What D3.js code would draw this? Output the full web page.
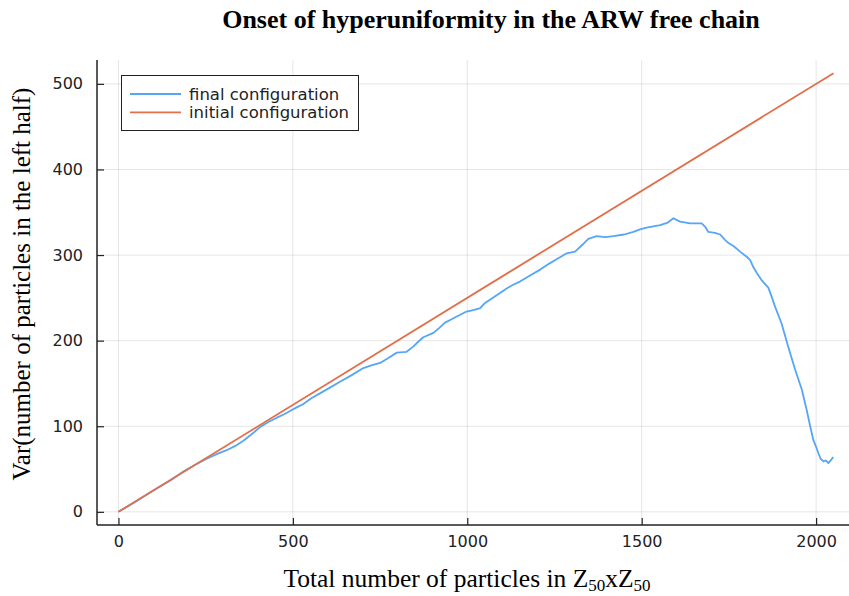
<!DOCTYPE html>
<html><head><meta charset="utf-8">
<script src="https://cdn.jsdelivr.net/npm/d3@7"></script>
<style>body{margin:0;background:#fff}</style>
</head><body><svg id="c" width="849" height="596"></svg>
<script>
// ---- data ----
const finalX = [0,50,100,150,186,220,253,285,310,335,358,380,406,430,454,475,497,511,530,554,580,610,635,670,702,725,750,775,798,826,845,860,874,903,920,936,955,974,998,1020,1037,1051,1080,1113,1130,1151,1180,1209,1235,1256,1285,1309,1330,1347,1371,1395,1419,1450,1476,1495,1514,1553,1575,1591,1610,1639,1672,1682,1691,1710,1725,1738,1749,1765,1782,1801,1811,1820,1830,1845,1863,1872,1882,1901,1920,1940,1959,1973,1983,1992,2000,2006,2013,2021,2028,2035,2042,2049];
const finalY = [0,12,25,37,47,55,62,68,72,77,83,90,99,105,110,114,119,122,126,133,139,146,152,160,168,171,174,180,186,187,193,199,204,209,215,221,225,229,234,236,238,244,252,261,265,269,276,283,290,295,302,304,312,319,322,321,322,324,327,330,332,335,338,343,339,337,337,333,327,326,324,318,314,310,304,298,294,286,279,270,262,252,240,220,193,166,143,119,100,84,76,69,62,59,60,57,60,64];
const initialX = [0, 2050];
const initialY = [0, 512.5];
const xTicks = [0, 500, 1000, 1500, 2000];
const yTicks = [0, 100, 200, 300, 400, 500];
const seriesNames = ["final configuration", "initial configuration"];
const seriesColors = ["#55a5f8", "#e0704a"];

// ---- layout ----
const svg = d3.select("#c");
const L = 97, R = 855, T = 60, B = 525;
const x = d3.scaleLinear().domain([-61.5, 2111.5]).range([L, R]);
const y = d3.scaleLinear().domain([-15.375, 527.875]).range([B, T]);

svg.append("defs").append("clipPath").attr("id", "clip")
  .append("rect").attr("x", L).attr("y", T).attr("width", R - L).attr("height", B - T);

// grid
const grid = svg.append("g").attr("stroke", "#000").attr("stroke-opacity", 0.1).attr("stroke-width", 1);
grid.selectAll(".vx").data(xTicks).join("line")
  .attr("x1", d => x(d)).attr("x2", d => x(d)).attr("y1", T).attr("y2", B);
grid.selectAll(".hy").data(yTicks).join("line")
  .attr("x1", L).attr("x2", R).attr("y1", d => y(d)).attr("y2", d => y(d));

// lines
const series = [
  finalX.map((v, i) => [v, finalY[i]]),
  initialX.map((v, i) => [v, initialY[i]])
];
const line = d3.line().x(d => x(d[0])).y(d => y(d[1]));
const lg = svg.append("g").attr("clip-path", "url(#clip)");
series.forEach((s, i) => {
  lg.append("path").datum(s).attr("d", line).attr("fill", "none")
    .attr("stroke", seriesColors[i]).attr("stroke-width", 1.8).attr("stroke-linejoin", "round");
});

// axes
const xAxis = svg.append("g").attr("transform", `translate(0,${B})`)
  .call(d3.axisBottom(x).tickValues(xTicks).tickSize(-7).tickPadding(11).tickFormat(d3.format("d")));
const yAxis = svg.append("g").attr("transform", `translate(${L},0)`)
  .call(d3.axisLeft(y).tickValues(yTicks).tickSize(-7).tickPadding(14).tickFormat(d3.format("d")));
[xAxis, yAxis].forEach(a => {
  a.select(".domain").attr("stroke", "#222").attr("stroke-width", 1.5);
  a.selectAll(".tick line").attr("stroke", "#222").attr("stroke-width", 1.2);
  a.selectAll(".tick text").attr("font-family", "DejaVu Sans").attr("font-size", 16).attr("fill", "#222");
});
xAxis.select(".domain").attr("d", `M${L},0H${R}`);
yAxis.select(".domain").attr("d", `M0,${T}V${B}`);

// title
svg.append("text").attr("x", 491).attr("y", 28).attr("text-anchor", "middle")
  .attr("font-family", "Liberation Serif").attr("font-weight", "bold").attr("font-size", 26)
  .text("Onset of hyperuniformity in the ARW free chain");

// x label
const xl = svg.append("text").attr("x", 467).attr("y", 587).attr("text-anchor", "middle")
  .attr("font-family", "Liberation Serif").attr("font-size", 25.5);
xl.append("tspan").text("Total number of particles in Z");
xl.append("tspan").attr("dy", 4).attr("font-size", 17).text("50");
xl.append("tspan").attr("dy", -4).text("xZ");
xl.append("tspan").attr("dy", 4).attr("font-size", 17).text("50");

// y label
svg.append("text").attr("transform", "translate(30,284) rotate(-90)").attr("text-anchor", "middle")
  .attr("font-family", "Liberation Serif").attr("font-size", 25)
  .text("Var(number of particles in the left half)");

// legend
const leg = svg.append("g");
leg.append("rect").attr("x", 121.5).attr("y", 75.5).attr("width", 237).attr("height", 55)
  .attr("fill", "#fff").attr("stroke", "#222").attr("stroke-width", 1);
seriesNames.forEach((n, i) => {
  const yy = 94 + i * 18.3;
  leg.append("line").attr("x1", 130).attr("x2", 181).attr("y1", yy).attr("y2", yy)
    .attr("stroke", seriesColors[i]).attr("stroke-width", 1.8);
  leg.append("text").attr("x", 189).attr("y", yy).attr("dy", "0.35em")
    .attr("font-family", "DejaVu Sans").attr("font-size", 16.5).attr("fill", "#222").text(n);
});
</script>
</body></html>
